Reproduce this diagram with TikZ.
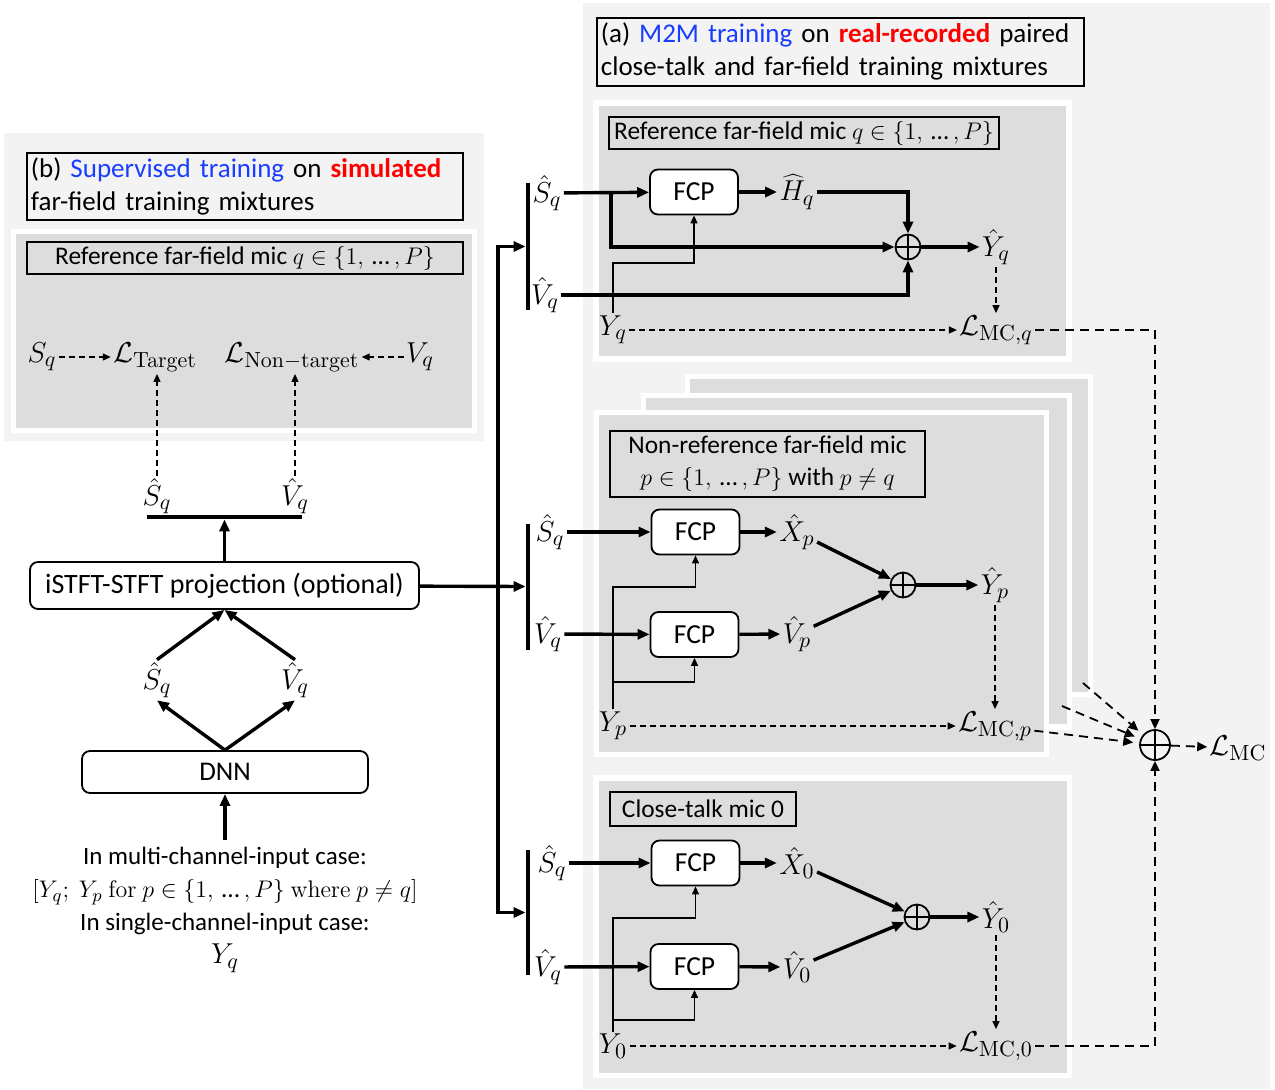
\documentclass[tikz,border=0pt]{standalone}
\usepackage[no-math]{fontspec}
\setmainfont{Carlito}
\usetikzlibrary{positioning,arrows.meta,calc}

\definecolor{panelgray}{HTML}{F3F3F3}
\definecolor{stagegray}{HTML}{DDDDDD}
\definecolor{m2mblue}{HTML}{1A3CFF}
\definecolor{realred}{HTML}{FF0000}

% mic index set {1, ..., P}
\newcommand{\micrange}{\{1,\mbox{\,\textellipsis\,},P\}}

\begin{document}
\begin{tikzpicture}[
  x=0.5pt, y=-0.5pt,
  font=\fontsize{13.5}{16.5}\selectfont,
  panel/.style={fill=panelgray, draw=none},
  stage/.style={fill=stagegray, draw=white, line width=2.6pt},
  tag/.style={draw, line width=0.9pt, inner sep=2pt},
  micname/.style={tag, font=\fontsize{12.7}{16}\selectfont},
  block/.style={draw, fill=white, rounded corners=4pt, line width=0.9pt, minimum height=22.5pt},
  fcp/.style={block, minimum width=44pt, font=\fontsize{13.75}{16}\selectfont},
  sig/.style={inner sep=1pt, font=\fontsize{15.5}{18}\selectfont},
  bus/.style={fill=black, inner sep=0pt},
  sum/.style={circle, draw, line width=0.9pt, minimum size=12.5pt, inner sep=0pt,
    path picture={\draw[line width=0.9pt]
      (path picture bounding box.north) -- (path picture bounding box.south)
      (path picture bounding box.west) -- (path picture bounding box.east);}},
  flow/.style={line width=1.7pt, -{Triangle[length=6pt, width=5pt]}},
  tap/.style={line width=0.6pt, -{Triangle[length=4pt, width=3.5pt]}},
  lossflow/.style={line width=0.6pt, dash pattern=on 3pt off 2pt, -{Triangle[length=4pt, width=3.5pt]}},
  sumflow/.style={line width=0.9pt, dash pattern=on 4.5pt off 3pt, -{Triangle[length=5pt, width=4.5pt]}}
]
\useasboundingbox (0,0) rectangle (1275,1089);

% ---- (b) supervised training ----
\fill[panel] (4,133) rectangle (484,441);
\node (b-title) [tag, anchor=north west, text width=214pt, minimum height=33.5pt, align=left] at (26,152)
  {(b) \textcolor{m2mblue}{Supervised training} on \textcolor{realred}{\textbf{simulated}}\\far-field training mixtures};
\draw[stage] (13.5,231.5) rectangle (474.5,430.5);
\node (ref-b) [micname, minimum width=218pt, minimum height=15pt] at (245,258) {Reference far-field mic $q\in\micrange$};

\node (s-ref)  [sig] at (42,357)  {$S_q$};
\node (l-tgt)  [sig] at (155,357) {$\mathcal{L}_{\mathrm{Target}}$};
\node (l-ntgt) [sig] at (292,357) {$\mathcal{L}_{\mathrm{Non-target}}$};
\node (v-ref)  [sig] at (420,357) {$V_q$};
\draw[lossflow] (s-ref) -- (l-tgt);
\draw[lossflow] (v-ref) -- (l-ntgt);

\node (s-est) [sig] at (157,496) {$\hat{S}_q$};
\node (v-est) [sig] at (295,496) {$\hat{V}_q$};
\draw[lossflow] (s-est.north) -- (s-est.north |- l-tgt.south);
\draw[lossflow] (v-est.north) -- (v-est.north |- l-ntgt.south);
\node (split-b) [bus, minimum width=77.5pt, minimum height=2pt] at (224.5,517) {};

% network
\node (proj) [block, minimum width=194.5pt, minimum height=23.5pt, font=\fontsize{14}{16}\selectfont] at (224.5,585.5) {iSTFT-STFT projection (optional)};
\draw[flow] (proj) -- (split-b);
\node (s-dnn) [sig] at (157,680) {$\hat{S}_q$};
\node (v-dnn) [sig] at (295,680) {$\hat{V}_q$};
\draw[flow] (s-dnn.north) -- (proj.south);
\draw[flow] (v-dnn.north) -- (proj.south);
\node (dnn) [block, minimum width=143pt, minimum height=21pt] at (225,772) {DNN};
\draw[flow] (dnn.north) -- (s-dnn.south);
\draw[flow] (dnn.north) -- (v-dnn.south);
\node (input) [align=center, font=\fontsize{12.5}{16.5}\selectfont] at (225,910)
  {In multi-channel-input case:\\
   \fontsize{12.75}{16.5}\selectfont$\bigl[Y_q;\ Y_p\ \mathrm{for}\ p\in\micrange\ \mathrm{where}\ p\neq q\bigr]$\\
   In single-channel-input case:\\
   \fontsize{15}{16.5}\selectfont$Y_q$};
\draw[flow] (input) -- (dnn);

% ---- (a) M2M training ----
\fill[panel] (583,3) rectangle (1270,1089);
\node (a-title) [tag, anchor=north west, text width=239.5pt, minimum height=34pt, align=left] at (596,17)
  {(a) \textcolor{m2mblue}{M2M training} on \textcolor{realred}{\textbf{real-recorded}} paired\\close-talk and far-field training mixtures};

% reference mic q
\draw[stage] (596,103) rectangle (1069,359);
\node (ref-a) [micname, minimum width=195pt, minimum height=15pt] at (804,133) {Reference far-field mic $q\in\micrange$};
\node (bar-a) [bus, minimum width=2pt, minimum height=63.5pt] at (528,246.5) {};
\node (sq-a) [sig] at (547,193) {$\hat{S}_q$};
\node (vq-a) [sig] at (545,295) {$\hat{V}_q$};
\node (fcp-a) [fcp] at (694,192) {FCP};
\node (hq-a) [sig] at (797,192) {$\widehat{H}_q$};
\node (sum-a) [sum] at (908,247) {};
\node (yhat-a) [sig] at (996,247) {$\hat{Y}_q$};
\node (yq-a) [sig] at (613,330) {$Y_q$};
\node (loss-a) [sig] at (996,330) {$\mathcal{L}_{\mathrm{MC},q}$};
\coordinate (split-a) at (611,192);
\coordinate (knee-a) at (613,263);
\draw[flow] (sq-a) -- (fcp-a);
\draw[flow] (split-a) |- (sum-a);
\draw[flow] (fcp-a) -- (hq-a);
\draw[flow] (hq-a) -| (sum-a);
\draw[flow] (vq-a) -| (sum-a);
\draw[flow] (sum-a) -- (yhat-a);
\draw[tap] (yq-a) -- (knee-a) -| (fcp-a);
\draw[lossflow] (yhat-a) -- (loss-a);
\draw[lossflow] (yq-a) -- (loss-a);

% non-reference mics p (stacked)
\draw[stage] (687.5,376.5) rectangle (1090.5,694.5);
\draw[stage] (643.5,395.5) rectangle (1069.5,727);
\draw[stage] (596.5,412.5) rectangle (1046.5,754.5);
\node (ref-p) [micname, minimum width=157.5pt, minimum height=33pt, align=center] at (767.5,464)
  {Non-reference far-field mic\\$p\in\micrange$ with $p\neq q$};
\node (bar-p) [bus, minimum width=2pt, minimum height=63pt] at (528,586.5) {};
\node (sq-p) [sig] at (550,532) {$\hat{S}_q$};
\node (vq-p) [sig] at (548,634) {$\hat{V}_q$};
\node (fcp1-p) [fcp] at (695.5,532) {FCP};
\node (fcp2-p) [fcp] at (694.5,634.5) {FCP};
\node (xp-p) [sig] at (797,532) {$\hat{X}_p$};
\node (vp-p) [sig] at (797,634) {$\hat{V}_p$};
\node (sum-p) [sum] at (903,585) {};
\node (yhat-p) [sig] at (995,585) {$\hat{Y}_p$};
\node (yp-p) [sig] at (613,726) {$Y_p$};
\node (loss-p) [sig] at (995,726) {$\mathcal{L}_{\mathrm{MC},p}$};
\coordinate (knee1-p) at (613,587);
\coordinate (knee2-p) at (613,682);
\draw[flow] (sq-p) -- (fcp1-p);
\draw[flow] (vq-p) -- (fcp2-p);
\draw[flow] (fcp1-p) -- (xp-p);
\draw[flow] (fcp2-p) -- (vp-p);
\draw[flow] (xp-p) -- (sum-p);
\draw[flow] (vp-p) -- (sum-p);
\draw[flow] (sum-p) -- (yhat-p);
\draw[tap] (yp-p) -- (knee1-p) -| (fcp1-p);
\draw[tap] (knee2-p) -| (fcp2-p);
\draw[lossflow] (yhat-p) -- (loss-p);
\draw[lossflow] (yp-p) -- (loss-p);

% close-talk mic 0
\draw[stage] (596,778) rectangle (1069.5,1075.5);
\node (ref-0) [micname, minimum width=93pt, minimum height=17pt] at (703,809) {Close-talk mic 0};
\node (bar-0) [bus, minimum width=2pt, minimum height=62.5pt] at (528,912.5) {};
\node (sq-0) [sig] at (552,863) {$\hat{S}_q$};
\node (vq-0) [sig] at (548,967) {$\hat{V}_q$};
\node (fcp1-0) [fcp] at (695.5,863) {FCP};
\node (fcp2-0) [fcp] at (694.5,966.5) {FCP};
\node (x0-0) [sig] at (797,863) {$\hat{X}_0$};
\node (v0-0) [sig] at (797,967) {$\hat{V}_0$};
\node (sum-0) [sum] at (917,917) {};
\node (yhat-0) [sig] at (996,917) {$\hat{Y}_0$};
\node (y0-0) [sig] at (613,1046) {$Y_0$};
\node (loss-0) [sig] at (996,1046) {$\mathcal{L}_{\mathrm{MC},0}$};
\coordinate (knee1-0) at (613,918);
\coordinate (knee2-0) at (613,1020);
\draw[flow] (sq-0) -- (fcp1-0);
\draw[flow] (vq-0) -- (fcp2-0);
\draw[flow] (fcp1-0) -- (x0-0);
\draw[flow] (fcp2-0) -- (v0-0);
\draw[flow] (x0-0) -- (sum-0);
\draw[flow] (v0-0) -- (sum-0);
\draw[flow] (sum-0) -- (yhat-0);
\draw[tap] (y0-0) -- (knee1-0) -| (fcp1-0);
\draw[tap] (knee2-0) -| (fcp2-0);
\draw[lossflow] (yhat-0) -- (loss-0);
\draw[lossflow] (y0-0) -- (loss-0);

% projection output fans out to the three branches
\coordinate (fork) at (498,586);
\draw[flow] (proj) -- (bar-p);
\draw[flow] (fork) |- (bar-a);
\draw[flow] (fork) |- (bar-0);

% total M2M loss
\node (total) [sum, minimum size=15pt] at (1155,745) {};
\node (lmc) [sig] at (1238,748) {$\mathcal{L}_{\mathrm{MC}}$};
\coordinate (from-mid) at (1062,706);
\coordinate (from-back) at (1083,683);
\draw[sumflow] (loss-a) -| (total);
\draw[sumflow] (loss-0) -| (total);
\draw[sumflow, shorten >=3pt] (loss-p) -- (total);
\draw[sumflow, shorten >=3pt] (from-mid) -- (total);
\draw[sumflow, shorten >=3pt] (from-back) -- (total);
\draw[sumflow] (total) -- (lmc);

\end{tikzpicture}
\end{document}
